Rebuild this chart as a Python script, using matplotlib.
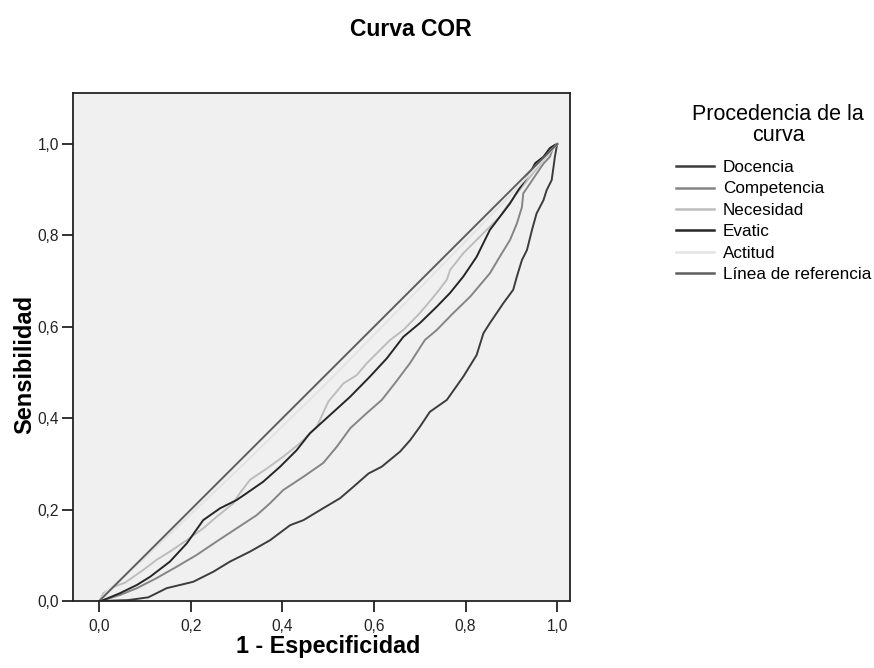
import matplotlib
matplotlib.use("Agg")
import matplotlib.pyplot as plt
from matplotlib.ticker import FixedLocator, FuncFormatter

plt.rcParams['font.family'] = ['Liberation Sans', 'DejaVu Sans']

# ---- data ----
docencia_x = [0.0, 0.005, 0.063, 0.107, 0.147, 0.205, 0.249, 0.285, 0.329, 0.373, 0.417, 0.446,
              0.489, 0.526, 0.555, 0.588, 0.617, 0.657, 0.679, 0.700, 0.722, 0.759, 0.795,
              0.824, 0.839, 0.853, 0.882, 0.904, 0.912, 0.923, 0.934, 0.945, 0.955, 0.970,
              0.977, 0.988, 0.992, 0.995, 1.0]
docencia_y = [0.0, 0.0, 0.002, 0.008, 0.028, 0.042, 0.064, 0.086, 0.108, 0.133, 0.166, 0.177,
              0.203, 0.225, 0.250, 0.279, 0.294, 0.327, 0.352, 0.381, 0.414, 0.440, 0.491,
              0.538, 0.586, 0.608, 0.651, 0.681, 0.710, 0.746, 0.768, 0.812, 0.848, 0.877,
              0.899, 0.921, 0.950, 0.972, 1.0]

competencia_x = [0.0, 0.009, 0.045, 0.082, 0.125, 0.169, 0.213, 0.256, 0.300, 0.344, 0.373,
                 0.402, 0.446, 0.489, 0.519, 0.548, 0.584, 0.617, 0.646, 0.679, 0.711, 0.737,
                 0.773, 0.810, 0.853, 0.875, 0.897, 0.912, 0.923, 0.926, 0.941, 0.955, 0.970,
                 0.984, 0.991, 1.0]
competencia_y = [0.0, 0.002, 0.013, 0.028, 0.050, 0.075, 0.101, 0.130, 0.159, 0.188, 0.214,
                 0.243, 0.272, 0.302, 0.338, 0.378, 0.411, 0.440, 0.477, 0.521, 0.571, 0.593,
                 0.630, 0.666, 0.717, 0.754, 0.790, 0.826, 0.862, 0.892, 0.914, 0.935, 0.957,
                 0.972, 0.991, 1.0]

necesidad_x = [0.0, 0.009, 0.031, 0.056, 0.096, 0.125, 0.154, 0.191, 0.227, 0.256, 0.293,
               0.307, 0.329, 0.366, 0.402, 0.438, 0.475, 0.500, 0.533, 0.562, 0.584, 0.613,
               0.635, 0.664, 0.700, 0.737, 0.759, 0.766, 0.795, 0.824, 0.853, 0.875, 0.890,
               0.912, 0.941, 0.970, 0.995, 1.0]
necesidad_y = [0.0, 0.017, 0.031, 0.040, 0.068, 0.090, 0.108, 0.133, 0.159, 0.184, 0.214,
               0.236, 0.265, 0.290, 0.316, 0.345, 0.381, 0.436, 0.476, 0.494, 0.520, 0.549,
               0.571, 0.593, 0.630, 0.674, 0.703, 0.724, 0.761, 0.790, 0.819, 0.841, 0.863,
               0.892, 0.928, 0.965, 0.994, 1.0]

evatic_x = [0.0, 0.009, 0.045, 0.082, 0.111, 0.154, 0.191, 0.227, 0.264, 0.300, 0.322, 0.358,
            0.395, 0.431, 0.460, 0.504, 0.548, 0.591, 0.628, 0.664, 0.700, 0.737, 0.766,
            0.795, 0.824, 0.853, 0.875, 0.897, 0.915, 0.930, 0.944, 0.952, 0.970, 0.984,
            0.995, 1.0]
evatic_y = [0.0, 0.002, 0.017, 0.035, 0.053, 0.086, 0.126, 0.177, 0.203, 0.221, 0.236, 0.261,
            0.294, 0.330, 0.367, 0.407, 0.447, 0.491, 0.531, 0.578, 0.608, 0.644, 0.674,
            0.710, 0.753, 0.812, 0.841, 0.870, 0.899, 0.921, 0.943, 0.958, 0.972, 0.991,
            0.998, 1.0]

actitud_x = [0.0, 0.02, 0.1, 0.3, 0.5, 0.7, 0.9, 1.0]
actitud_y = [0.0, 0.025, 0.095, 0.285, 0.48, 0.685, 0.89, 1.0]

ref_x = [0.0, 1.0]
ref_y = [0.0, 1.0]

series_names = ["Docencia", "Competencia", "Necesidad", "Evatic", "Actitud", "Línea de referencia"]
series_colors = ["#3c3c3c", "#858585", "#bdbdbd", "#262626", "#e4e4e4", "#5e5e5e"]

tick_values = [0.0, 0.2, 0.4, 0.6, 0.8, 1.0]

# ---- figure ----
W, H = 874, 668
fig = plt.figure(figsize=(W / 100, H / 100), dpi=100)
fig.patch.set_facecolor("white")

L, R, T, B = 73, 570, 93, 601
ax = fig.add_axes([L / W, 1 - B / H, (R - L) / W, (B - T) / H])
ax.set_facecolor("#f0f0f0")

xs = [docencia_x, competencia_x, necesidad_x, evatic_x, actitud_x, ref_x]
ys = [docencia_y, competencia_y, necesidad_y, evatic_y, actitud_y, ref_y]
for x, y, name, c in zip(xs, ys, series_names, series_colors):
    ax.plot(x, y, color=c, lw=1.4, label=name, solid_joinstyle="round")

ax.set_xlim(-0.0574, 1.028)
ax.set_ylim(0.0, 1.1116)

fmt = FuncFormatter(lambda v, p: f"{v:.1f}".replace(".", ","))
ax.xaxis.set_major_locator(FixedLocator(tick_values))
ax.yaxis.set_major_locator(FixedLocator(tick_values))
ax.xaxis.set_major_formatter(fmt)
ax.yaxis.set_major_formatter(fmt)
ax.tick_params(direction="out", length=8, width=1.3, labelsize=11.2, colors="#222222")
ax.tick_params(axis="y", pad=2)
ax.tick_params(axis="x", pad=5)
for s in ax.spines.values():
    s.set_linewidth(1.3)
    s.set_color("#222222")

ax.set_xlabel("1 - Especificidad", fontsize=16.8, fontweight="bold", labelpad=1)
ax.set_ylabel("Sensibilidad", fontsize=17, fontweight="bold", labelpad=1)
ax.xaxis.label.set_x(0.5135)
ax.yaxis.label.set_y(0.465)

fig.text(411 / W, 1 - 30 / H, "Curva COR", ha="center", va="center", fontsize=16.5,
         fontweight="bold")

fig.text(778 / W, 1 - 125 / H, "Procedencia de la\ncurva", ha="center", va="center",
         fontsize=15.5, linespacing=0.95, multialignment="center")

leg = fig.legend(loc="upper left", bbox_to_anchor=(676 / W, 1 - 160 / H),
                 frameon=False, fontsize=12.3, handlelength=2.2, handletextpad=0.55,
                 labelspacing=0.38, borderpad=0, borderaxespad=0)
for ln in leg.get_lines():
    ln.set_linewidth(1.8)

fig.savefig("out.png", dpi=100)
